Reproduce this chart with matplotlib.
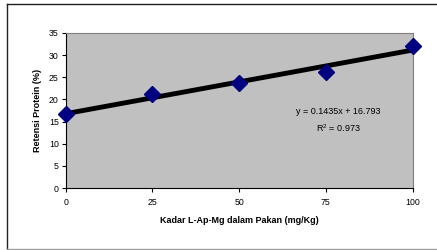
import matplotlib
matplotlib.use("Agg")
import matplotlib.pyplot as plt
from matplotlib.lines import Line2D
import numpy as np

x_vals = [0, 25, 50, 75, 100]
y_vals = [16.6, 21.3, 23.6, 26.2, 32.1]
x_ticks = [0, 25, 50, 75, 100]
y_ticks = [0, 5, 10, 15, 20, 25, 30, 35]
eq_text = "y = 0.1435x + 16.793"
r2_text = "R$^2$ = 0.973"
x_label = "Kadar L-Ap-Mg dalam Pakan (mg/Kg)"
y_label = "Retensi Protein (%)"

plt.rcParams['font.family'] = ['Liberation Sans', 'DejaVu Sans']
plt.rcParams['mathtext.fontset'] = 'custom'
plt.rcParams['mathtext.rm'] = 'Liberation Sans'

fig = plt.figure(figsize=(4.37, 2.5), dpi=100)
fig.patch.set_facecolor('white')
W, H = 437.0, 250.0
# outer border: left and top dark, bottom gray, right cut off
fig.lines.append(Line2D([7/W, 7/W], [1 - 248.5/H, 1 - 3.5/H], transform=fig.transFigure, color='#202020', linewidth=1.0))
fig.lines.append(Line2D([7/W, 1.0], [1 - 3.5/H, 1 - 3.5/H], transform=fig.transFigure, color='#202020', linewidth=1.0))
fig.lines.append(Line2D([7/W, 1.0], [1 - 248.5/H, 1 - 248.5/H], transform=fig.transFigure, color='#A0A0A0', linewidth=1.0))

ax = fig.add_axes([65.7/W, 1 - 188/H, (412.5-65.7)/W, (188-33)/H])
ax.set_facecolor('#C0C0C0')
ax.set_xlim(0, 100)
ax.set_ylim(0, 35)

coef = np.polyfit(x_vals, y_vals, 1)
xx = np.array([0, 100])
ax.plot(xx, np.polyval(coef, xx), color='black', linewidth=3.5, zorder=2, solid_capstyle='butt')
ax.plot(x_vals, y_vals, linestyle='none', marker='D', markersize=8, color='#000080', zorder=3, clip_on=False)

ax.set_xticks(x_ticks)
ax.set_yticks(y_ticks)
ax.tick_params(axis='both', direction='out', length=3, width=0.8, labelsize=6.3, colors='black')
ax.tick_params(axis='x', pad=4)
ax.tick_params(axis='y', pad=2)
for s in ['top', 'right']:
    ax.spines[s].set_color('#808080')
    ax.spines[s].set_linewidth(0.8)
for s in ['left', 'bottom']:
    ax.spines[s].set_color('black')
    ax.spines[s].set_linewidth(0.8)

ax.set_xlabel(x_label, fontsize=6.5, fontweight='bold', labelpad=7)
ax.set_ylabel(y_label, fontsize=6.5, fontweight='bold', labelpad=5)

ax.text(78.5, 17.3, eq_text, fontsize=6.5, ha='center', va='center')
ax.text(78.5, 13.6, r2_text, fontsize=6.5, ha='center', va='center')

fig.savefig("out.png", dpi=100)
